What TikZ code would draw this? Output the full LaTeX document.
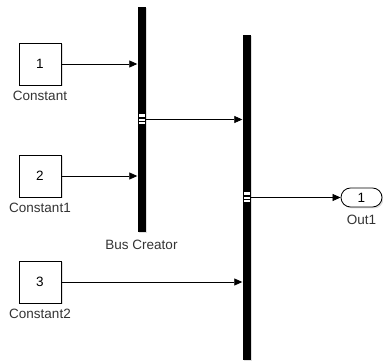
\documentclass[tikz,border=0pt]{standalone}
\usepackage{fontspec}
\setmainfont{Liberation Sans}
\usetikzlibrary{arrows.meta,positioning,shapes.misc,shadows}

\begin{document}
\begin{tikzpicture}[
x=1pt, y=-1pt,
font=\fontsize{13.5}{16}\selectfont,
blk/.style={draw, thick, fill=white, minimum width=42pt, minimum height=42pt, inner sep=0pt,
  drop shadow={shadow xshift=1.5pt, shadow yshift=-1.5pt, opacity=0.25}},
lbl/.style={label={[label distance=2.5pt, text=black!80]below:#1}},
bar/.style={fill=black, minimum width=8pt, inner sep=0pt,
  drop shadow={shadow xshift=1.5pt, shadow yshift=-1.5pt, opacity=0.25}},
port/.style={fill=white, minimum width=6pt, inner sep=0pt},
outblk/.style={draw, thick, fill=white, rounded rectangle, minimum width=41pt, minimum height=19pt, inner sep=0pt,
  drop shadow={shadow xshift=1.5pt, shadow yshift=-1.5pt, opacity=0.25}},
arrow/.style={-{Triangle[length=8pt, width=7pt]}, line width=0.7pt}
]
\useasboundingbox (0,0) rectangle (383,363);

% sources
\node[blk, lbl=Constant] (k1) at (40,64) {1};
\node[blk, lbl=Constant1] (k2) at (40,176) {2};
\node[blk, lbl=Constant2] (k3) at (40,282) {3};

% bus creators
\node[bar, minimum height=225pt, label={[label distance=4.5pt, text=black!80]below:Bus Creator}] (bc) at (141.5,119.5) {};
\node[bar, minimum height=325pt] (bc2) at (246.5,197.5) {};
\foreach \b in {bc,bc2} {
  \node[port, minimum height=3.5pt] (\b-pa) at ([yshift=3.75pt]\b.center) {};
  \node[port, minimum height=1.6pt] (\b-pb) at ([yshift=-0.7pt]\b.center) {};
  \node[port, minimum height=2.4pt] (\b-pc) at ([yshift=-3.7pt]\b.center) {};
}

% sink
\node[outblk, label={[label distance=4pt, text=black!80]below:Out1}] (o1) at (361.5,197.5) {1};

\draw[arrow] (k1.east) -- (k1.east -| bc.west);
\draw[arrow] (k2.east) -- (k2.east -| bc.west);
\draw[arrow] (bc.east) -- (bc.east -| bc2.west);
\draw[arrow] (k3.east) -- (k3.east -| bc2.west);
\draw[arrow] (bc2.east) -- (o1.west);
\end{tikzpicture}
\end{document}
